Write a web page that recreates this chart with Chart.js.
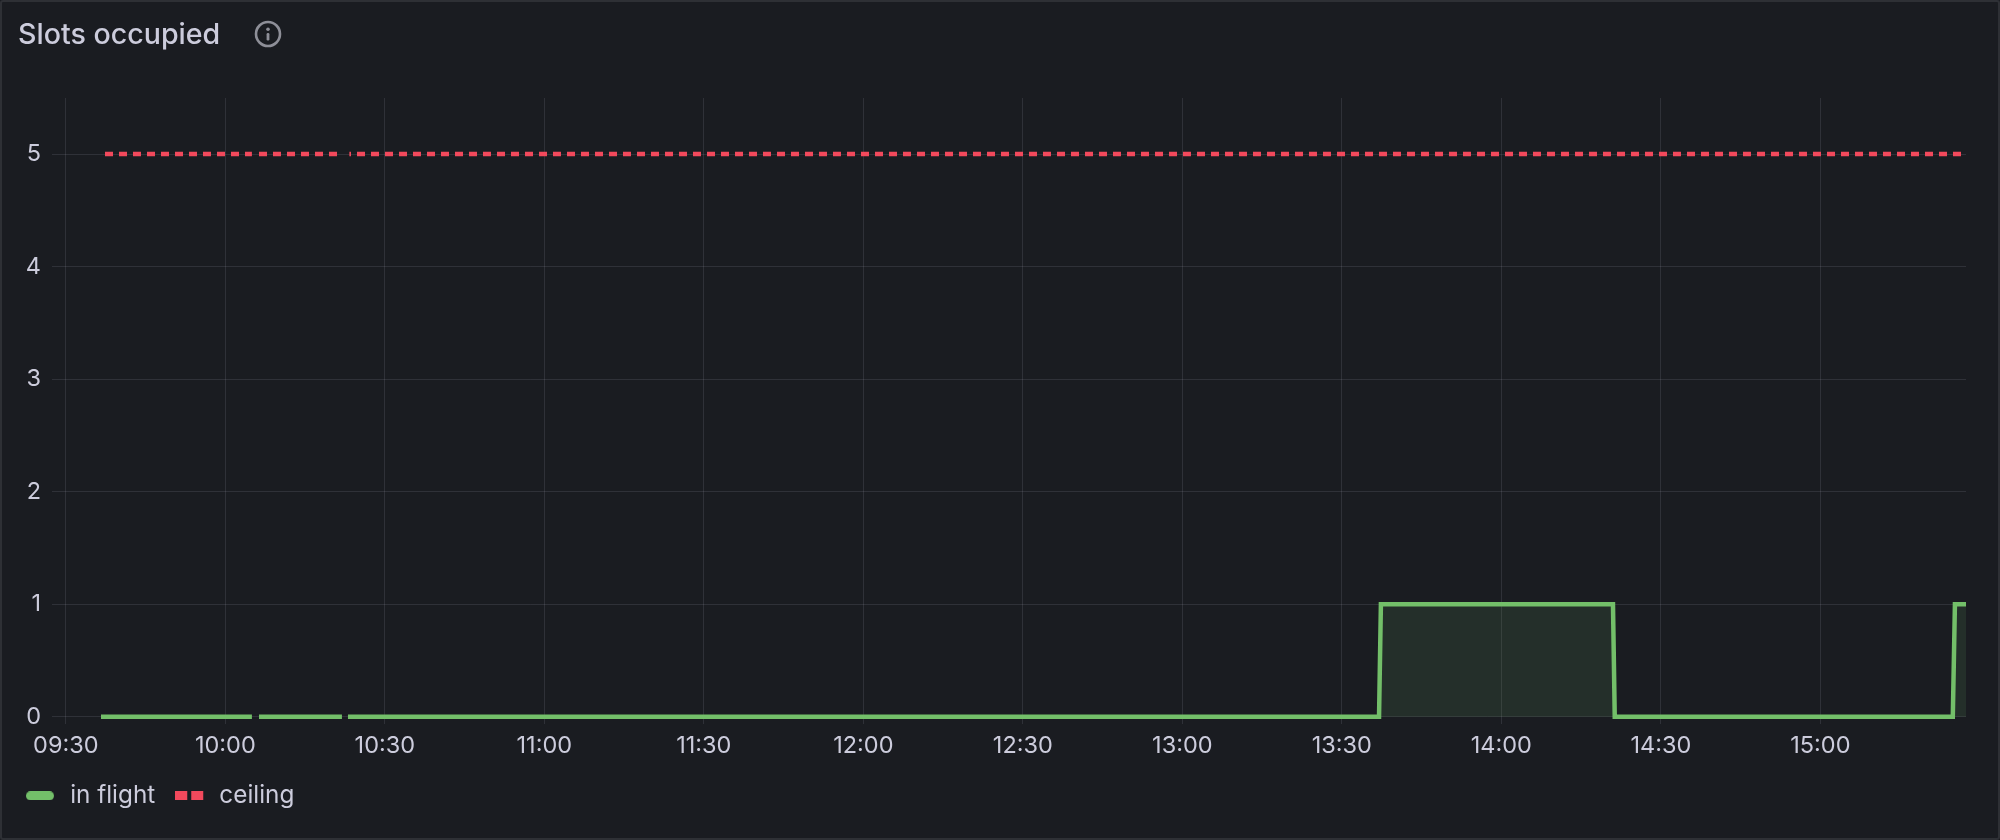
<!DOCTYPE html>
<html>
<head>
<meta charset="utf-8">
<script src="https://cdn.jsdelivr.net/npm/chart.js@4"></script>
<style>
html,body{margin:0;padding:0;background:#1a1c21;width:2000px;height:840px;overflow:hidden}
#wrap{position:absolute;left:0;top:0;width:2000px;height:840px}
#frame{position:absolute;left:0;top:0;width:2000px;height:840px;box-sizing:border-box;border:2px solid #2e3035;border-radius:3px;pointer-events:none}
#title{position:absolute;left:18px;top:16px;font:500 28.6px/36px Inter,sans-serif;color:#ccccdc;white-space:nowrap}
#icon{position:absolute;left:253px;top:19px}
</style>
</head>
<body>
<div id="wrap"><canvas id="c" width="2000" height="840"></canvas></div>
<div id="frame"></div>
<div id="title">Slots occupied</div>
<svg id="icon" width="30" height="30" viewBox="0 0 30 30">
  <circle cx="15" cy="15" r="12" fill="none" stroke="#8e8f98" stroke-width="2.6"/>
  <circle cx="15" cy="10.2" r="1.8" fill="#8e8f98"/>
  <rect x="13.6" y="14" width="2.8" height="7.5" rx="1.2" fill="#8e8f98"/>
</svg>
<script>
const xTicks = ["09:30","10:00","10:30","11:00","11:30","12:00","12:30","13:00","13:30","14:00","14:30","15:00"];
const yTicks = [0,1,2,3,4,5];
const inFlightTimes  = ["09:36:37","10:05:00","10:05:30","10:06:20","10:21:56","10:22:30","10:23:04","13:37:00","13:37:21","14:21:00","14:21:20","15:24:55","15:25:19","15:27:24"];
const inFlightValues = [0,0,null,0,0,null,0,0,1,1,0,0,1,1];
const ceilingTimes   = ["09:37:22","10:05:00","10:05:30","10:06:20","10:21:56","10:22:30","10:23:20","15:27:24"];
const ceilingValues  = [5,5,null,5,5,null,5,5];
const xMin = "09:27:24", xMax = "15:27:24";
const yMin = -0.062, yMax = 5.498;

const secs = s => { const p = s.split(":").map(Number); return p[0]*3600 + p[1]*60 + (p[2]||0); };
const pad = n => String(n).padStart(2,"0");
const fmt = v => pad(Math.floor(v/3600)) + ":" + pad(Math.floor(v/60)%60);
const pts = (ts,vs) => ts.map((t,i)=>({x:secs(t),y:vs[i]}));

function swatch(draw){
  const c=document.createElement("canvas"); c.width=32; c.height=9;
  draw(c.getContext("2d")); return c;
}
const green="#73bf69", red="#f2495c";
const greenSwatch=swatch(g=>{g.fillStyle=green;g.beginPath();g.roundRect(0,0,28,9,4.5);g.fill();});
const redSwatch=swatch(g=>{g.fillStyle=red;g.fillRect(0,0,12,9);g.fillRect(16,0,12,9);});

Chart.defaults.font.family="Inter, sans-serif";
new Chart(document.getElementById("c"),{
  type:"line",
  data:{datasets:[
    {label:"in flight",data:pts(inFlightTimes,inFlightValues),borderColor:green,backgroundColor:"rgba(115,191,105,0.12)",
     borderWidth:4.5,fill:"origin",pointRadius:0,tension:0,spanGaps:false,borderJoinStyle:"miter"},
    {label:"ceiling",data:pts(ceilingTimes,ceilingValues),borderColor:red,backgroundColor:red,
     borderWidth:4.5,borderDash:[8,6],fill:false,pointRadius:0,tension:0,spanGaps:false,
     segment:{borderDashOffset:ctx=>ctx.p0.parsed.x>=secs("10:23:00")?6.4:0}}
  ]},
  options:{
    responsive:false,animation:false,devicePixelRatio:1,
    layout:{padding:{left:6,right:34,top:98,bottom:22}},
    plugins:{
      title:{display:false},
      tooltip:{enabled:false},
      legend:{
        display:true,position:"bottom",align:"start",
        labels:{
          color:"#ccccdc",font:{size:24.3,family:"Inter, sans-serif"},padding:20,
          usePointStyle:true,pointStyleWidth:32,boxHeight:8,
          generateLabels:()=>[
            {text:"in flight",pointStyle:greenSwatch,fontColor:"#ccccdc",lineWidth:0,strokeStyle:"transparent",fillStyle:"transparent",datasetIndex:0},
            {text:"ceiling",pointStyle:redSwatch,fontColor:"#ccccdc",lineWidth:0,strokeStyle:"transparent",fillStyle:"transparent",datasetIndex:1}
          ]
        }
      }
    },
    scales:{
      x:{
        type:"linear",min:secs(xMin),max:secs(xMax),
        afterBuildTicks:a=>{a.ticks=xTicks.map(t=>({value:secs(t)}));},
        afterFit:a=>{a.height=40;},
        grid:{color:"rgba(204,204,220,0.12)",lineWidth:1,drawTicks:false},
        border:{display:false},
        ticks:{color:"#ccccdc",font:{size:23.5},padding:8,autoSkip:false,maxRotation:0,callback:v=>fmt(v)}
      },
      y:{
        type:"linear",min:yMin,max:yMax,
        afterBuildTicks:a=>{a.ticks=yTicks.map(v=>({value:v}));},
        afterFit:a=>{a.width=46;},
        grid:{color:"rgba(204,204,220,0.12)",lineWidth:1,drawTicks:false},
        border:{display:false},
        ticks:{color:"#ccccdc",font:{size:23.5},padding:11,callback:v=>String(v)}
      }
    }
  }
});
</script>
</body>
</html>
